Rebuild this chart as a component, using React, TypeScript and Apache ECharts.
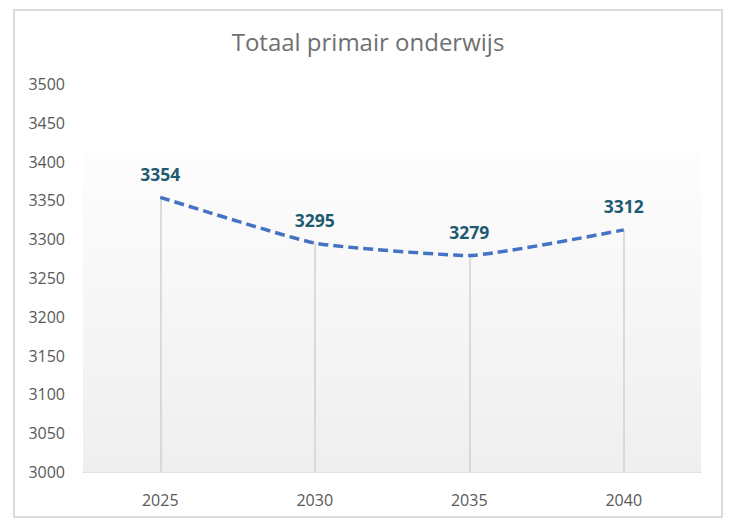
import React, { useEffect, useRef } from "react";
import * as echarts from "echarts";

const title = "Totaal primair onderwijs";
const categories = ["2025", "2030", "2035", "2040"];
const values = [3354, 3295, 3279, 3312];
const yMin = 3000;
const yMax = 3500;
const yStep = 50;
const backgroundTop = 3412;

export default function App() {
  const ref = useRef<HTMLDivElement>(null);
  useEffect(() => {
    document.body.style.margin = "0";
    const chart = echarts.init(ref.current!, null, { renderer: "svg" });
    const font = "'Open Sans', sans-serif";
    chart.setOption({
      animation: false,
      backgroundColor: "#ffffff",
      title: {
        text: title,
        left: "center",
        top: 24,
        textStyle: { fontFamily: font, fontSize: 24, fontWeight: "normal", color: "#707070" },
      },
      graphic: [
        {
          type: "rect",
          shape: { x: 14, y: 10, width: 708, height: 507 },
          style: { fill: "none", stroke: "#d9d9d9", lineWidth: 2 },
          silent: true,
        },
      ],
      grid: { left: 83, right: 35, top: 84, bottom: 53 },
      xAxis: {
        type: "category",
        data: categories,
        boundaryGap: true,
        axisLine: { lineStyle: { color: "#d9d9d9", width: 1.5 } },
        axisTick: { show: false },
        axisLabel: { fontFamily: font, fontSize: 16, color: "#595959", margin: 20 },
      },
      yAxis: {
        type: "value",
        min: yMin,
        max: yMax,
        interval: yStep,
        axisLine: { show: false },
        axisTick: { show: false },
        splitLine: { show: false },
        axisLabel: {
          fontFamily: font,
          fontSize: 16,
          color: "#595959",
          margin: 18,
          formatter: (v: number) => String(v),
        },
      },
      series: [
        {
          type: "line",
          data: values,
          smooth: 0.15,
          symbol: "circle",
          symbolSize: 1,
          showSymbol: true,
          itemStyle: { color: "#4472c4", opacity: 0 },
          z: 5,
          lineStyle: { color: "#4472c4", width: 3.5, type: [10, 5] },
          label: {
            show: true,
            position: "top",
            distance: 14,
            fontFamily: font,
            fontSize: 17.5,
            fontWeight: "bold",
            color: "#1e5a70",
            opacity: 1,
          },
          markArea: {
            silent: true,
            itemStyle: {
              color: new echarts.graphic.LinearGradient(0, 0, 0, 1, [
                { offset: 0, color: "#fdfdfd" },
                { offset: 1, color: "#efefef" },
              ]),
            },
            data: [[{ yAxis: backgroundTop }, { yAxis: yMin }]],
          },
          markLine: {
            silent: true,
            symbol: "none",
            label: { show: false },
            lineStyle: { color: "#d0d0d0", width: 1.5, type: "solid" },
            data: categories.map((c, i) => [
              { coord: [c, yMin] },
              { coord: [c, values[i]] },
            ]),
          },
        },
      ],
    });
    return () => chart.dispose();
  }, []);
  return <div ref={ref} style={{ width: 736, height: 525 }} />;
}
